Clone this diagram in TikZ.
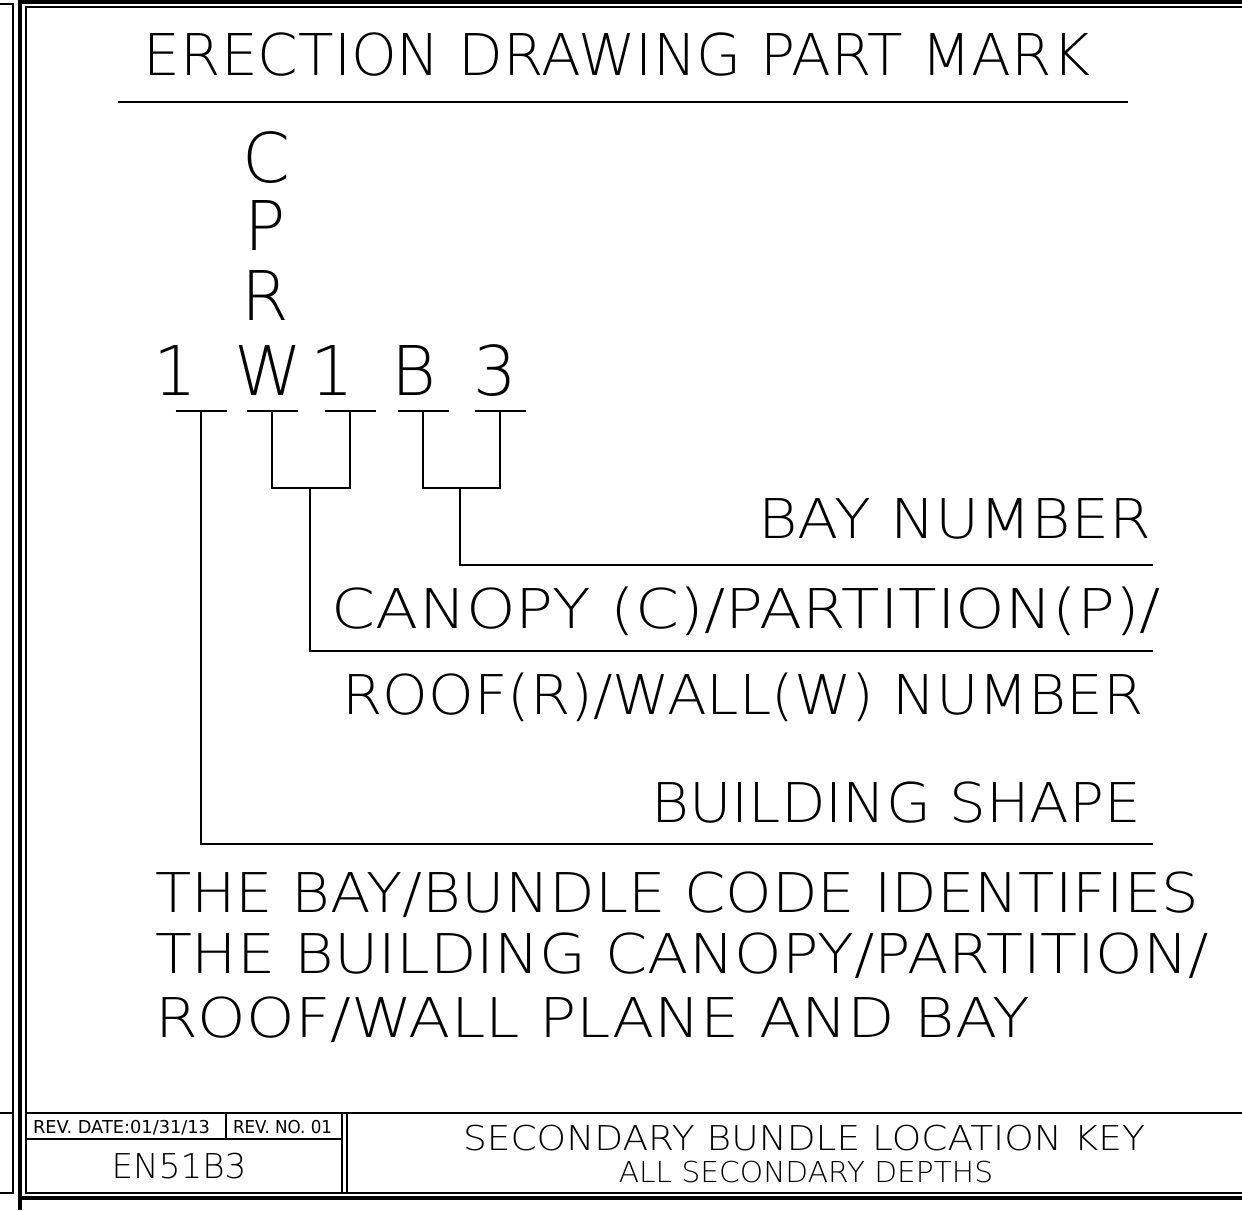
\documentclass[tikz,border=0pt]{standalone}
\usepackage{fontspec}
\setmainfont{DejaVu Sans ExtraLight}
\newfontfamily\revfont{DejaVu Sans}
% Text waagrecht strecken (breite CAD-Schrift)
\newcommand{\breit}[2]{\scalebox{#1}[1]{#2}}
\begin{document}
\begin{tikzpicture}[x=0.5pt, y=-0.5pt, line width=1pt,
    txt/.style={inner sep=0pt, anchor=base},
    gross/.style={txt, font=\fontsize{28.8}{30}\selectfont},
    mittel/.style={txt, font=\fontsize{27.4}{29}\selectfont},
    zeichen/.style={txt, font=\fontsize{34.3}{36}\selectfont},
    klein/.style={txt, font=\fontsize{17.1}{18}\selectfont},
    kleiner/.style={txt, font=\fontsize{14.4}{15}\selectfont},
    rev/.style={txt, anchor=base west, font=\revfont\fontsize{8.9}{10}\selectfont},
    rahmen/.style={line width=2pt}]

            \useasboundingbox (0,0) rectangle (1242,1210);

            % Rahmen
            \draw[rahmen] (19.5,1210) -- (19.5,1.5) -- (1242,1.5);
            \draw[rahmen] (19.5,1197.5) -- (1242,1197.5);
            \draw (1242,6.5) -- (25.5,6.5) -- (25.5,1193) -- (1242,1193);
            \draw (0,4) -- (13,4) -- (13,1193) -- (0,1193);
            \draw (0,1113) -- (13,1113);

            % Schriftfeld
            \draw (25.5,1113) -- (1242,1113);
            \draw (25.5,1139) -- (342,1139);
            \draw (226,1113) -- (226,1139);
            \draw (342,1113) -- (342,1193);
            \draw (347,1113) -- (347,1193);

            % Titel mit Unterstrich
            \node[gross] (titel) at (617,75) {\breit{1.01}{ERECTION DRAWING PART MARK}};
            \coordinate (ulinks) at (118,102);
            \coordinate (urechts) at (1128,102);
            \draw (ulinks) -- (urechts);

            % Buchstaben der Positionsnummer
            \node[zeichen] (c) at (266,182) {C};
            \node[zeichen] (p) at (265,250) {P};
            \node[zeichen] (r) at (265,320) {R};
            \node[zeichen] (form) at (175,395) {1};
            \node[zeichen] (w) at (268,395) {W};
            \node[zeichen] (nr) at (332,395) {1};
            \node[zeichen] (b) at (414,395) {B};
            \node[zeichen] (feld) at (495,395) {3};

            % Striche unter den Zeichen
            \pgfmathsetmacro{\yS}{411}
            \pgfmathsetmacro{\hS}{25.5}
            \foreach \name/\xS in {s1/201, s2/272, s3/350, s4/423, s5/500} {
                    \coordinate (\name) at (\xS, \yS);
                    \draw ([xshift=-\hS*0.5pt]\name) -- ([xshift=\hS*0.5pt]\name);
                }

            % Klammern und Sammelpunkte
            \pgfmathsetmacro{\yK}{488}
            \coordinate (k1) at (310,\yK);
            \coordinate (k2) at (460,\yK);
            \draw (s2) -- (s2 |- k1) -- (s3 |- k1) -- (s3);
            \draw (s4) -- (s4 |- k2) -- (s5 |- k2) -- (s5);

            % Linien zu den Erklaerungen
            \coordinate (e1) at (1153,565);
            \coordinate (e2) at (1153,651);
            \coordinate (e3) at (1153,844);
            \draw (k2) -- (k2 |- e1) -- (e1);
            \draw (k1) -- (k1 |- e2) -- (e2);
            \draw (s1) -- (s1 |- e3) -- (e3);

            % Erklaerungen
            \node[mittel, anchor=base east] (bucht) at (1152,538) {\breit{1.10}{BAY NUMBER}};
            \node[mittel, anchor=base east] (ebene1) at (1162,628) {\breit{1.15}{CANOPY (C)/PARTITION(P)/}};
            \node[mittel, anchor=base east] (ebene2) at (1145,714) {\breit{1.06}{ROOF(R)/WALL(W) NUMBER}};
            \node[mittel, anchor=base east] (gebaeude) at (1142,822) {\breit{1.057}{BUILDING SHAPE}};

            % Hinweistext
            \node[mittel, anchor=base west] (hinweis1) at (154,912) {\breit{1.081}{THE BAY/BUNDLE CODE IDENTIFIES}};
            \node[mittel, anchor=base west] (hinweis2) at (154,973) {\breit{1.103}{THE BUILDING CANOPY/PARTITION/}};
            \node[mittel, anchor=base west] (hinweis3) at (154,1037) {\breit{1.126}{ROOF/WALL PLANE AND BAY}};

            % Schriftfeld Texte
            \node[rev] (revdatum) at (32,1133) {REV. DATE:01/31/13};
            \node[rev] (revnr) at (232,1133) {\breit{0.94}{REV. NO. 01}};
            \node[klein] (zeichnr) at (179,1178) {EN51B3};
            \node[klein] (blatt) at (804,1150) {\breit{1.097}{SECONDARY BUNDLE LOCATION KEY}};
            \node[kleiner] (unter) at (806,1182) {\breit{1.03}{ALL SECONDARY DEPTHS}};

        \end{tikzpicture}
\end{document}
